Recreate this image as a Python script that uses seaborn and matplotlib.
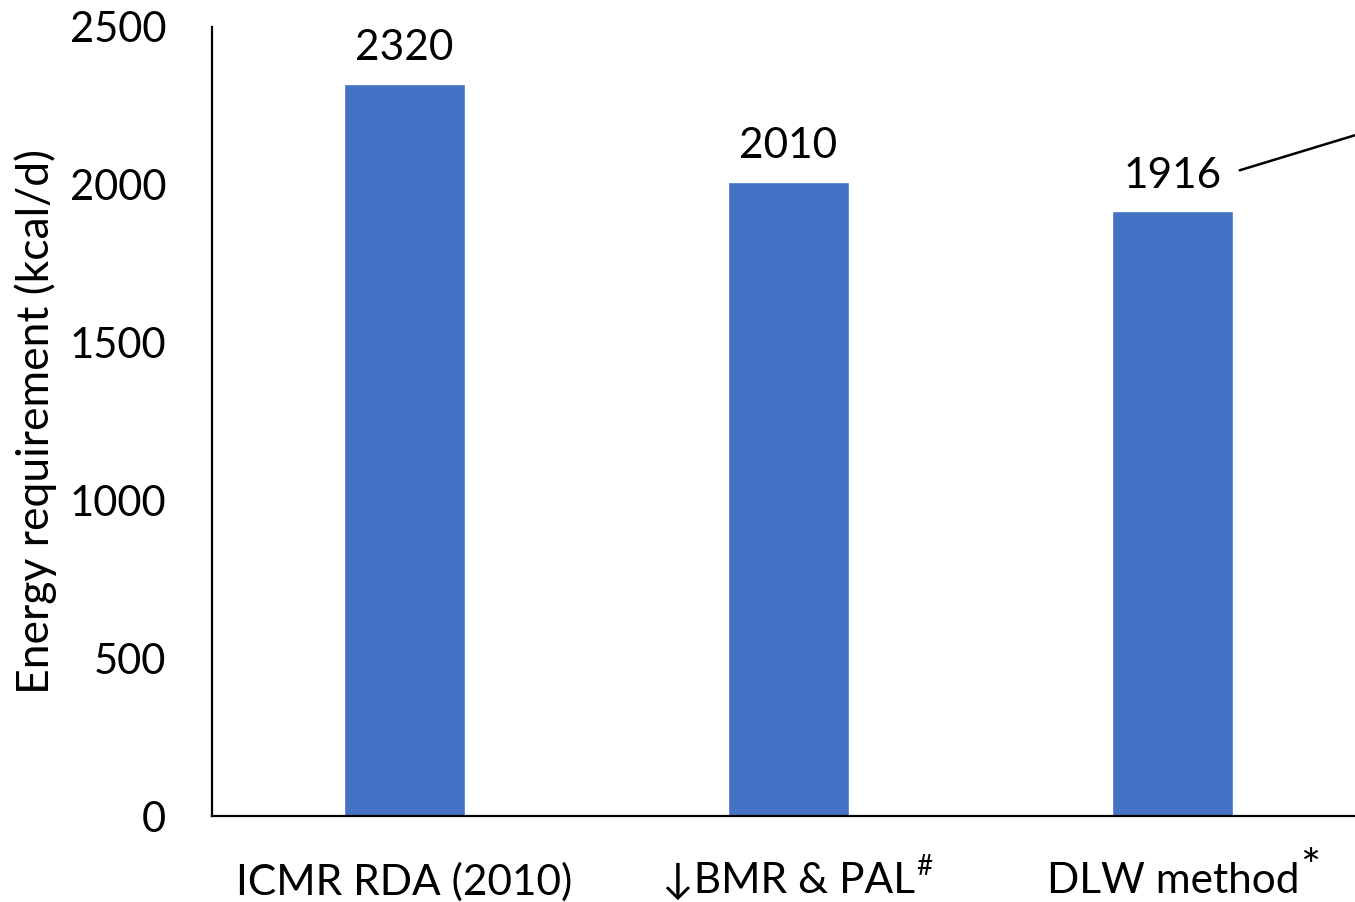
import matplotlib
matplotlib.use("Agg")
import matplotlib.pyplot as plt
import seaborn as sns
import pandas as pd

methods = ["ICMR RDA (2010)", "\u2193BMR & PAL", "DLW method"]
marks = ["", "#", "*"]
energy = [2320, 2010, 1916]
y_ticks = [0, 500, 1000, 1500, 2000, 2500]

sns.set_theme(style="white")
plt.rcParams["font.family"] = ["Lato", "DejaVu Sans"]

df = pd.DataFrame({"method": methods, "energy": energy})

fig = plt.figure(figsize=(13.55, 9.02), dpi=100)
ax = fig.add_axes([212 / 1355, 1 - 816 / 902, (1365 - 212) / 1355, (816 - 27) / 902])

sns.barplot(data=df, x="method", y="energy", color="#4472C4", saturation=1,
            width=0.315, ax=ax)

ax.set_xlim(-0.5, 2.5)
ax.set_ylim(0, 2500)
ax.set_yticks(y_ticks)
ax.tick_params(axis="both", length=0, colors="black")
ax.tick_params(axis="x", pad=33, labelsize=30.5)
ax.tick_params(axis="y", pad=33, labelsize=30)
ax.set_xlabel("")
ax.set_ylabel("Energy requirement (kcal/d)", fontsize=32, color="black", labelpad=9)

for side in ["top", "right"]:
    ax.spines[side].set_visible(False)
for side in ["left", "bottom"]:
    ax.spines[side].set_color("black")
    ax.spines[side].set_linewidth(1.6)

ax.bar_label(ax.containers[0], labels=[str(v) for v in energy], padding=12,
             fontsize=30.5, color="black")

# leader line running off to the right of the last value
ax.plot([2.174, 2.49], [2046, 2163], color="black", lw=1.8, clip_on=False)

# superscript markers after the category names
fig.canvas.draw()
renderer = fig.canvas.get_renderer()
sizes = {"#": 20, "*": 34}
raise_px = {"#": 8, "*": 14}
for lbl, mk in zip(ax.get_xticklabels(), marks):
    if not mk:
        continue
    bb = lbl.get_window_extent(renderer)
    fig.text((bb.x1 + 1) / fig.bbox.width, (bb.y1 + raise_px[mk]) / fig.bbox.height, mk,
             fontsize=sizes[mk], color="black", ha="left", va="top")

fig.savefig("out.png", dpi=100)
